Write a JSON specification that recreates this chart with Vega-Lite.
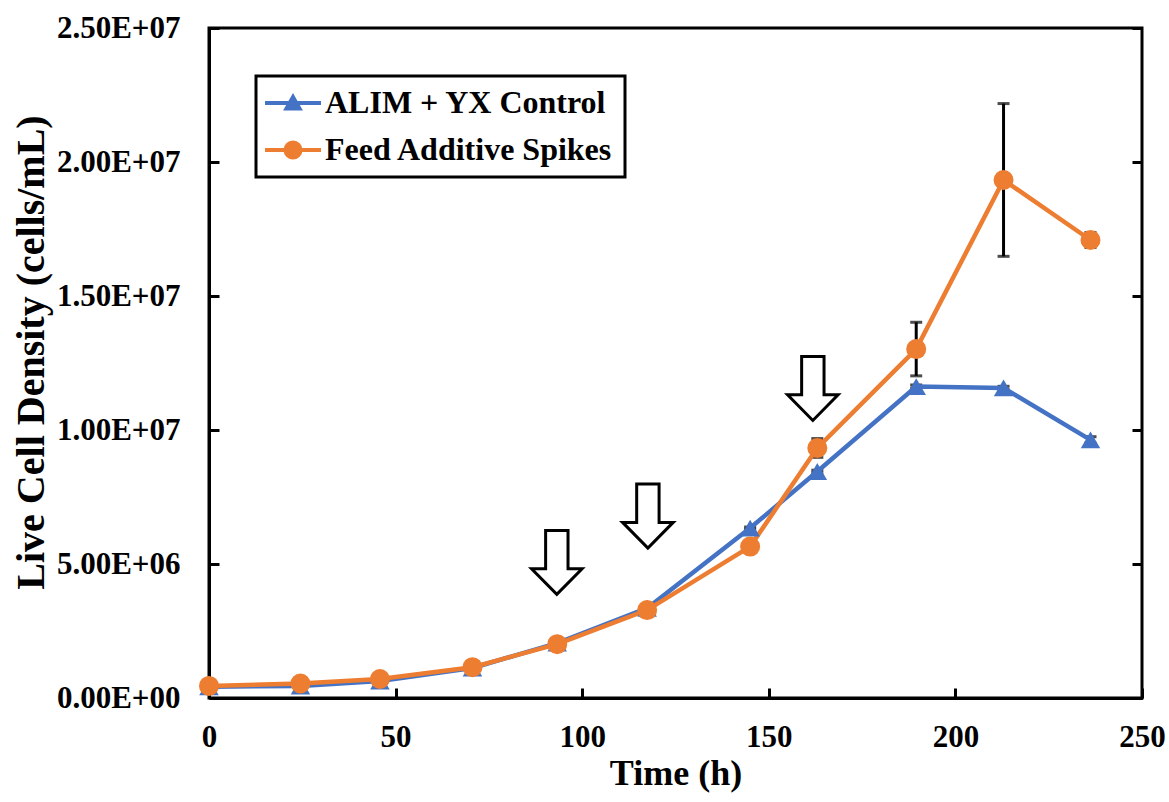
{
  "$schema": "https://vega.github.io/schema/vega-lite/v6.json",
  "width": 933,
  "height": 670,
  "autosize": {"type": "none"},
  "padding": {"left": 209, "top": 28, "right": 27, "bottom": 104},
  "background": "white",
  "config": {
    "view": {"stroke": "black", "strokeWidth": 3},
    "font": "Liberation Serif",
    "axis": {
      "domainColor": "black", "domainWidth": 3,
      "tickColor": "black", "tickWidth": 3, "tickSize": -10,
      "grid": false, "labelFlush": false,
      "labelFont": "Liberation Serif", "labelFontWeight": "bold", "labelFontSize": 31, "labelColor": "black",
      "titleFont": "Liberation Serif", "titleFontWeight": "bold", "titleFontSize": 36, "titleColor": "black"
    },
    "legend": {
      "orient": "none", "legendX": 47, "legendY": 48,
      "strokeColor": "black", "strokeWidth": 3, "padding": 11, "rowPadding": 15,
      "symbolSize": 400, "labelOffset": 26, "symbolOpacity": 1,
      "labelFont": "Liberation Serif", "labelFontWeight": "bold", "labelFontSize": 32, "labelColor": "black", "labelLimit": 0,
      "symbolStrokeWidth": 4
    }
  },
  "datasets": {
    "cells": [
      {"series": "ALIM + YX Control", "time": 0, "value": 420000, "err": 10000},
      {"series": "ALIM + YX Control", "time": 24.5, "value": 450000, "err": 10000},
      {"series": "ALIM + YX Control", "time": 45.8, "value": 630000, "err": 10000},
      {"series": "ALIM + YX Control", "time": 70.6, "value": 1120000, "err": 20000},
      {"series": "ALIM + YX Control", "time": 93.3, "value": 2050000, "err": 30000},
      {"series": "ALIM + YX Control", "time": 117.4, "value": 3350000, "err": 80000},
      {"series": "ALIM + YX Control", "time": 145, "value": 6340000, "err": 40000},
      {"series": "ALIM + YX Control", "time": 163, "value": 8450000, "err": 50000},
      {"series": "ALIM + YX Control", "time": 189.5, "value": 11620000, "err": 60000},
      {"series": "ALIM + YX Control", "time": 212.9, "value": 11570000, "err": 60000},
      {"series": "ALIM + YX Control", "time": 236.2, "value": 9630000, "err": 120000},
      {"series": "Feed Additive Spikes", "time": 0, "value": 450000, "err": 20000},
      {"series": "Feed Additive Spikes", "time": 24.5, "value": 540000, "err": 20000},
      {"series": "Feed Additive Spikes", "time": 45.8, "value": 710000, "err": 30000},
      {"series": "Feed Additive Spikes", "time": 70.6, "value": 1150000, "err": 40000},
      {"series": "Feed Additive Spikes", "time": 93.3, "value": 2010000, "err": 50000},
      {"series": "Feed Additive Spikes", "time": 117.4, "value": 3280000, "err": 200000},
      {"series": "Feed Additive Spikes", "time": 145, "value": 5650000, "err": 100000},
      {"series": "Feed Additive Spikes", "time": 163, "value": 9330000, "err": 350000},
      {"series": "Feed Additive Spikes", "time": 189.5, "value": 13020000, "err": 1000000},
      {"series": "Feed Additive Spikes", "time": 212.9, "value": 19330000, "err": 2850000},
      {"series": "Feed Additive Spikes", "time": 236.2, "value": 17090000, "err": 280000}
    ],
    "arrows": [
      {"time": 93.2, "value": 5060000},
      {"time": 117.6, "value": 6790000},
      {"time": 161.8, "value": 11550000}
    ]
  },
  "resolve": {"axis": {"y": "independent"}},
  "layer": [
    {
      "data": {"name": "cells"},
      "mark": {"type": "errorbar", "color": "black", "ticks": {"size": 12, "thickness": 3, "color": "black"}, "rule": {"strokeWidth": 3, "color": "black"}},
      "encoding": {
        "x": {"field": "time", "type": "quantitative", "scale": {"domain": [0, 250]},
              "axis": {"title": "Time (h)", "values": [0, 50, 100, 150, 200, 250], "labelPadding": 34, "titlePadding": 4}},
        "y": {"field": "value", "type": "quantitative", "scale": {"domain": [0, 25000000]}, "axis": null},
        "yError": {"field": "err"}
      }
    },
    {
      "data": {"name": "cells"},
      "mark": {"type": "line", "strokeWidth": 4.5},
      "encoding": {
        "x": {"field": "time", "type": "quantitative", "scale": {"domain": [0, 250]},
              "axis": {"title": "Time (h)", "values": [0, 50, 100, 150, 200, 250], "labelPadding": 34, "titlePadding": 4}},
        "y": {"field": "value", "type": "quantitative", "scale": {"domain": [0, 25000000]},
              "axis": {"title": "Live Cell Density (cells/mL)", "values": [0, 5000000, 10000000, 15000000, 20000000, 25000000],
                       "labelExpr": "replace(upper(format(datum.value, '.2e')), 'E+', 'E+0')", "labelPadding": 39, "titlePadding": 5, "titleFontSize": 40, "titleY": 324}},
        "color": {"field": "series", "type": "nominal",
                  "scale": {"domain": ["ALIM + YX Control", "Feed Additive Spikes"], "range": ["#4472C4", "#ED7D31"]},
                  "legend": {"title": null}},
        "order": {"field": "time", "type": "quantitative"}
      }
    },
    {
      "data": {"name": "cells"},
      "mark": {"type": "point", "filled": true, "opacity": 0},
      "encoding": {
        "x": {"field": "time", "type": "quantitative", "scale": {"domain": [0, 250]},
              "axis": {"title": "Time (h)", "values": [0, 50, 100, 150, 200, 250], "labelPadding": 34, "titlePadding": 4}},
        "y": {"field": "value", "type": "quantitative", "scale": {"domain": [0, 25000000]}, "axis": null},
        "color": {"field": "series", "type": "nominal",
                  "scale": {"domain": ["ALIM + YX Control", "Feed Additive Spikes"], "range": ["#4472C4", "#ED7D31"]},
                  "legend": {"title": null}},
        "shape": {"field": "series", "type": "nominal",
                  "scale": {"domain": ["ALIM + YX Control", "Feed Additive Spikes"],
                            "range": ["M -1.8 0 L 3.8 0 M 0.35 0.55 L 1.0 -0.6 L 1.65 0.55 Z",
                                      "M -1.8 0 L 3.8 0 M 1.75 0 C 1.75 0.414 1.414 0.75 1.0 0.75 C 0.586 0.75 0.25 0.414 0.25 0 C 0.25 -0.414 0.586 -0.75 1.0 -0.75 C 1.414 -0.75 1.75 -0.414 1.75 0 Z"]},
                  "legend": {"title": null}}
      }
    },
    {
      "data": {"name": "cells"},
      "transform": [{"filter": "datum.series === 'ALIM + YX Control'"}],
      "mark": {"type": "point", "shape": "triangle-up", "size": 380, "filled": true, "opacity": 1, "strokeWidth": 0, "color": "#4472C4"},
      "encoding": {
        "x": {"field": "time", "type": "quantitative", "scale": {"domain": [0, 250]},
              "axis": {"title": "Time (h)", "values": [0, 50, 100, 150, 200, 250], "labelPadding": 34, "titlePadding": 4}},
        "y": {"field": "value", "type": "quantitative", "scale": {"domain": [0, 25000000]}, "axis": null}
      }
    },
    {
      "data": {"name": "cells"},
      "transform": [{"filter": "datum.series === 'Feed Additive Spikes'"}],
      "mark": {"type": "point", "shape": "circle", "size": 400, "filled": true, "opacity": 1, "strokeWidth": 0, "color": "#ED7D31"},
      "encoding": {
        "x": {"field": "time", "type": "quantitative", "scale": {"domain": [0, 250]},
              "axis": {"title": "Time (h)", "values": [0, 50, 100, 150, 200, 250], "labelPadding": 34, "titlePadding": 4}},
        "y": {"field": "value", "type": "quantitative", "scale": {"domain": [0, 25000000]}, "axis": null}
      }
    },
    {
      "data": {"name": "arrows"},
      "mark": {"type": "point", "shape": "M -0.35 -1 L 0.35 -1 L 0.35 0.2 L 0.79 0.2 L 0 1 L -0.79 0.2 L -0.35 0.2 Z",
               "size": 4096, "filled": true, "fill": "white", "stroke": "black", "strokeWidth": 3, "opacity": 1},
      "encoding": {
        "x": {"field": "time", "type": "quantitative", "scale": {"domain": [0, 250]},
              "axis": {"title": "Time (h)", "values": [0, 50, 100, 150, 200, 250], "labelPadding": 34, "titlePadding": 4}},
        "y": {"field": "value", "type": "quantitative", "scale": {"domain": [0, 25000000]},
              "axis": {"orient": "right", "title": null, "labels": false, "domain": false, "tickSize": -10,
                       "values": [0, 5000000, 10000000, 15000000, 20000000, 25000000]}}
      }
    }
  ]
}
